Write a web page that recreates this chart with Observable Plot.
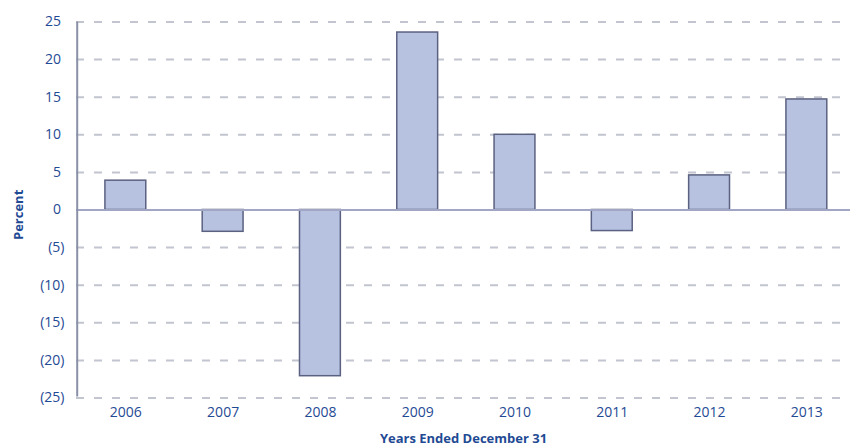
<!DOCTYPE html>
<html>
<head>
<meta charset="utf-8">
<script src="https://cdn.jsdelivr.net/npm/d3@7"></script>
<script src="https://cdn.jsdelivr.net/npm/@observablehq/plot@0.6"></script>
<style>
  html, body { margin: 0; padding: 0; background: #ffffff; }
</style>
</head>
<body>
<div id="chart"></div>
<script>
const years = [2006, 2007, 2008, 2009, 2010, 2011, 2012, 2013];
const pctChange = [3.9, -2.9, -22.1, 23.6, 10.0, -2.8, 4.6, 14.7];
const yTicks = [25, 20, 15, 10, 5, 0, -5, -10, -15, -20, -25];
const xDomain = [2005.5, 2013.5];
const yDomain = [-25, 25];
const yLabel = "Percent";
const xLabel = "Years Ended December 31";

const data = years.map((year, i) => ({year, value: pctChange[i]}));
const halfBar = 0.21;
const textColor = "#1f4a94";

const chart = Plot.plot({
  width: 850,
  height: 447,
  marginLeft: 76,
  marginRight: 0,
  marginTop: 21.5,
  marginBottom: 49.5,
  style: {
    fontFamily: "'Open Sans', 'Noto Sans', sans-serif",
    fontSize: "14px",
    color: textColor,
    background: "#ffffff"
  },
  x: {type: "linear", domain: xDomain, range: [76.7, 855], axis: null},
  y: {domain: yDomain, axis: null},
  marks: [
    Plot.ruleY(yTicks.filter(t => t !== 0), {
      stroke: "#c2c5cf", strokeWidth: 2, strokeDasharray: "8,10"
    }),
    Plot.rectY(data, {
      x1: d => d.year - halfBar,
      x2: d => d.year + halfBar,
      y1: 0,
      y2: d => d.value,
      fill: "#b7c2e1",
      stroke: "#5b6180",
      strokeWidth: 1.5
    }),
    Plot.ruleY([0], {stroke: "#a0a6c4", strokeWidth: 2}),
    Plot.ruleX([xDomain[0]], {y1: yDomain[0], y2: yDomain[1], stroke: "#8a90a8", strokeWidth: 2, insetTop: -1}),
    Plot.text(yTicks.filter(t => t >= 0), {
      y: d => d, text: d => String(d),
      frameAnchor: "left", textAnchor: "end", dx: -15.5, fill: textColor
    }),
    Plot.text(yTicks.filter(t => t < 0), {
      y: d => d, text: d => `(${-d})`,
      frameAnchor: "left", textAnchor: "end", dx: -12, fill: textColor
    }),
    Plot.text(years, {
      x: d => d, text: d => String(d),
      frameAnchor: "bottom", dy: 18.5, fill: textColor
    }),
    Plot.text([yLabel], {
      frameAnchor: "left", rotate: -90, dx: -58, dy: 30,
      fontWeight: "bold", fontSize: 13, fill: textColor
    }),
    Plot.text([xLabel], {
      frameAnchor: "bottom", dy: 45,
      fontWeight: "bold", fontSize: 13, fill: textColor
    })
  ]
});

document.getElementById("chart").appendChild(chart);
</script>
</body>
</html>
